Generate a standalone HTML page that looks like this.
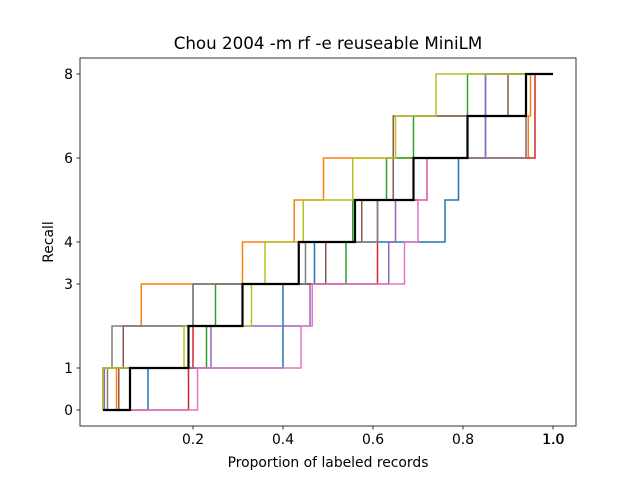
<!DOCTYPE html>
<html><head><meta charset="utf-8"><style>
html,body{margin:0;padding:0;background:#fff;width:640px;height:480px;overflow:hidden}
text{font-family:"DejaVu Sans","Liberation Sans",sans-serif;fill:#000}
</style></head><body>
<svg id="chart" width="640" height="480" viewBox="0 0 640 480" xmlns="http://www.w3.org/2000/svg">
<rect width="640" height="480" fill="#fff"/>
<text x="328" y="49" font-size="16.7" text-anchor="middle">Chou 2004 -m rf -e reuseable MiniLM</text>
<text x="328" y="467" font-size="13.9" text-anchor="middle">Proportion of labeled records</text>
<text x="0" y="0" font-size="13.9" text-anchor="middle" transform="translate(53,242) rotate(-90)">Recall</text>
<g id="series"></g>
<g id="axes"></g>
</svg>
<script>
const xTicks=[0.2,0.4,0.6,0.8,1.0];
const xTickLabels=["0.2","0.4","0.6","0.8","1.0"];
const yTicks=[0,1,3,4,6,8];
const yTickLabels=["0","1","3","4","6","8"];
const seriesNames=["blue","orange","green","red","purple","brown","pink","gray","olive","mean"];
const seriesColors=["#1f77b4","#ff7f0e","#2ca02c","#d62728","#9467bd","#8c564b","#e377c2","#7f7f7f","#bcbd22","#000000"];
const blueSteps=[0.10,0.40,0.40,0.47,0.76,0.79,0.85,0.85];
const orangeSteps=[0.03,0.045,0.085,0.31,0.425,0.49,0.945,0.95];
const greenSteps=[0.0,0.23,0.25,0.54,0.555,0.63,0.69,0.81];
const redSteps=[0.19,0.2,0.31,0.61,0.61,0.72,0.96,0.96];
const purpleSteps=[0.003,0.24,0.46,0.635,0.65,0.69,0.85,0.85];
const brownSteps=[0.035,0.045,0.2,0.495,0.575,0.645,0.645,0.9];
const pinkSteps=[0.21,0.44,0.465,0.67,0.70,0.72,0.94,0.94];
const graySteps=[0.01,0.02,0.20,0.45,0.61,0.69,0.94,0.94];
const oliveSteps=[0.0,0.18,0.33,0.36,0.445,0.555,0.65,0.74];
const meanSteps=[0.06,0.19,0.31,0.435,0.56,0.69,0.81,0.94];
const seriesEnds=[0.95,0.955,0.95,0.96,0.95,0.95,0.95,0.95,0.94,1.0];
const allSteps=[blueSteps,orangeSteps,greenSteps,redSteps,purpleSteps,brownSteps,pinkSteps,graySteps,oliveSteps,meanSteps];

const L=80,R=576,T=58,B=426;
function xs(v){return 103+v*450;}
function ys(v){return 410-v*42;}
const NS="http://www.w3.org/2000/svg";
const sg=document.getElementById('series');
allSteps.forEach((steps,i)=>{
  let d="M"+xs(0)+","+ys(0);
  steps.forEach((sx,k)=>{
    d+=" H"+xs(sx)+" V"+ys(k+1);
  });
  d+=" H"+xs(Math.max(seriesEnds[i],steps[steps.length-1]));
  const p=document.createElementNS(NS,'path');
  p.setAttribute('d',d);
  p.setAttribute('fill','none');
  p.setAttribute('stroke',seriesColors[i]);
  p.setAttribute('stroke-width',i===9?2.2:1.5);
  
  
  sg.appendChild(p);
});
const ag=document.getElementById('axes');
const frame=document.createElementNS(NS,'rect');
frame.setAttribute('x',L);frame.setAttribute('y',T);frame.setAttribute('width',R-L);frame.setAttribute('height',B-T);
frame.setAttribute('fill','none');frame.setAttribute('stroke','#000');frame.setAttribute('stroke-width','0.8');


ag.appendChild(frame);
xTicks.forEach((v,i)=>{
  const l=document.createElementNS(NS,'line');
  l.setAttribute('x1',xs(v));l.setAttribute('x2',xs(v));l.setAttribute('y1',B);l.setAttribute('y2',B+3.5);
  l.setAttribute('stroke','#000');l.setAttribute('stroke-width','0.8');
  
  
  ag.appendChild(l);
  const t=document.createElementNS(NS,'text');
  t.setAttribute('x',xs(v));t.setAttribute('y',B+18);t.setAttribute('font-size','13.9');t.setAttribute('text-anchor','middle');
  t.textContent=xTickLabels[i];
  
  
  ag.appendChild(t);
});
const t2=document.createElementNS(NS,'text');
t2.setAttribute('x',xs(1.0)+0.6);t2.setAttribute('y',B+18);t2.setAttribute('font-size','13.9');t2.setAttribute('text-anchor','middle');
t2.textContent="1.0";


ag.appendChild(t2);
yTicks.forEach((v,i)=>{
  const l=document.createElementNS(NS,'line');
  l.setAttribute('x1',L-3.5);l.setAttribute('x2',L);l.setAttribute('y1',ys(v));l.setAttribute('y2',ys(v));
  l.setAttribute('stroke','#000');l.setAttribute('stroke-width','0.8');
  
  
  ag.appendChild(l);
  const t=document.createElementNS(NS,'text');
  t.setAttribute('x',L-7);t.setAttribute('y',ys(v)+5);t.setAttribute('font-size','13.9');t.setAttribute('text-anchor','end');
  t.textContent=yTickLabels[i];
  
  
  ag.appendChild(t);
});
</script>
</body></html>
